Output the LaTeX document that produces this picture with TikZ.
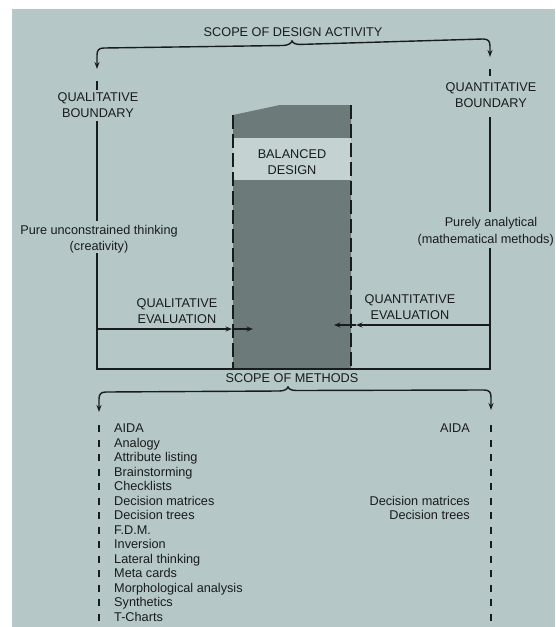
\documentclass[tikz,border=0pt]{standalone}
\usepackage{fontspec}
\setmainfont{Liberation Sans}
\usetikzlibrary{arrows.meta}
\definecolor{bg}{RGB}{182,199,200}
\definecolor{band}{RGB}{196,210,210}
\definecolor{colgray}{RGB}{108,122,122}
\definecolor{ink}{RGB}{25,28,28}
\begin{document}
\begin{tikzpicture}[x=1pt,y=-1pt,
  lbl/.style={font=\fontsize{12.7}{16}\selectfont, inner sep=0pt, text=ink, align=center},
  item/.style={font=\fontsize{12.7}{14.5}\selectfont, inner sep=0pt, text=ink},
  ln/.style={draw=ink, line width=1.4pt},
  bigtip/.style={{Stealth[length=7pt,width=5pt]}-{Stealth[length=7pt,width=5pt]}},
  smalltip/.style={-{Stealth[length=6.5pt,width=5pt]}},
  colline/.style={draw=ink, line width=1.8pt, dash pattern=on 14pt off 5pt},
  methline/.style={draw=ink, line width=1.6pt, dash pattern=on 7pt off 7.5pt}]
\useasboundingbox (0,0) rectangle (555,627);
\clip (0,0) rectangle (555,627);
\fill[white] (0,0) rectangle (555,627);
\fill[bg] (12,9) rectangle (555,627);

% balanced design column
\fill[colgray] (233,115) -- (280,105) -- (351,105) -- (351,369) -- (233,369) -- cycle;
\fill[band] (233,138) rectangle (351,180);
\node[lbl, anchor=north] (bal) at (292,149) {BALANCED\\DESIGN};
\coordinate (cl1) at (233,115); \coordinate (cl2) at (233,369);
\coordinate (cr1) at (351,105); \coordinate (cr2) at (351,369);
\draw[colline] (cl1) -- (cl2);
\draw[colline] (cr1) -- (cr2);

% scope of design activity
\node[lbl, anchor=base] (title) at (293,36.5) {SCOPE OF DESIGN ACTIVITY};
\coordinate (qlTip) at (97,69);
\coordinate (qnTip) at (490,57);
\draw[ln, bigtip] (qlTip) -- (97,55) .. controls (97,50) and (99,48) .. (104,48)
  -- (283,45.5) .. controls (288,45.3) and (291,43.5) .. (292,41)
  .. controls (293,43.3) and (296,44.6) .. (301,44.4)
  -- (483,39) .. controls (488,39) and (490,41) .. (490,46) -- (qnTip);

% boundaries
\node[lbl, anchor=north] (qlb) at (98,92) {QUALITATIVE\\BOUNDARY};
\node[lbl, anchor=north] (qnb) at (491,82.5) {QUANTITATIVE\\BOUNDARY};
\node[lbl, anchor=north] (pure) at (99,225) {Pure unconstrained thinking\\(creativity)};
\node[lbl, anchor=north] (purely) at (491,217) {Purely analytical};
\node[lbl, anchor=base east] (purely2) at (554,243.5) {(mathematical methods)};

\coordinate (l1) at (97,81); \coordinate (l2) at (97,90);
\coordinate (l3) at (97,121); \coordinate (l4) at (97,221);
\coordinate (l5) at (97,253); \coordinate (bl) at (97,369);
\coordinate (br) at (490,369); \coordinate (r5) at (490,248);
\coordinate (r4) at (490,212); \coordinate (r3) at (490,117);
\coordinate (r1) at (490,69); \coordinate (r2) at (490,76);
\draw[ln] (l1) -- (l2);
\draw[ln] (r1) -- (r2);
\draw[ln] (l3) -- (l4);
\draw[ln] (l5) -- (bl) -- (br) -- (r5);
\draw[ln] (r4) -- (r3);

% evaluations
\node[lbl, anchor=north] (qle) at (177,298.5) {QUALITATIVE\\EVALUATION};
\node[lbl, anchor=north] (qne) at (410,294.5) {QUANTITATIVE\\EVALUATION};
\coordinate (ea0) at (97,329); \coordinate (ea1) at (232,329); \coordinate (ea2) at (253,329);
\coordinate (eb0) at (490,325); \coordinate (eb1) at (356,325); \coordinate (eb2) at (334,325);
\draw[ln, smalltip] (ea0) -- (ea1);
\draw[ln, smalltip] (ea1) -- (ea2);
\draw[ln, smalltip] (eb0) -- (eb1);
\draw[ln, smalltip] (eb1) -- (eb2);

% scope of methods
\node[lbl, anchor=base] (mtitle) at (292,382.5) {SCOPE OF METHODS};
\coordinate (mlTip) at (99,412);
\coordinate (mrTip) at (491,410);
\draw[ln, bigtip] (mlTip) -- (99,399) .. controls (99,394) and (101,392) .. (106,392)
  -- (279,391) .. controls (284,391) and (287,389.5) .. (288,387)
  .. controls (289,389.5) and (292,390.5) .. (297,390.5)
  -- (484,390) .. controls (489,390) and (491,392) .. (491,397) -- (mrTip);
\coordinate (ml1) at (99,425); \coordinate (ml2) at (99,630);
\coordinate (mr1) at (491,425); \coordinate (mr2) at (491,630);
\draw[methline] (ml1) -- (ml2);
\draw[methline] (mr1) -- (mr2);

\foreach \t [count=\i from 0] in {AIDA, Analogy, Attribute listing, Brainstorming,
  Checklists, Decision matrices, Decision trees, F.D.M., Inversion, Lateral thinking,
  Meta cards, Morphological analysis, Synthetics, T-Charts}
  \node[item, anchor=base west] (m\i) at (114,{432.5+14.54*\i}) {\t};
\node[item, anchor=base east] (q0) at (470,432.5) {AIDA};
\node[item, anchor=base east] (q1) at (470,505.2) {Decision matrices};
\node[item, anchor=base east] (q2) at (470,519.7) {Decision trees};
\end{tikzpicture}
\end{document}
